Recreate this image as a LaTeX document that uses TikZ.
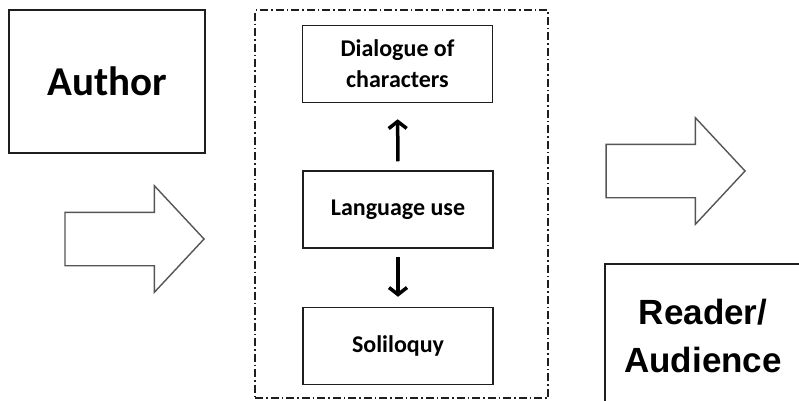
\documentclass[tikz,border=0pt]{standalone}
\usepackage{fontspec}
\usepackage{tikz}
\usetikzlibrary{arrows.meta,shapes.arrows}
\newfontfamily\carlito{Carlito}
\newfontfamily\liberation{Liberation Sans}
\definecolor{boxline}{HTML}{1E1E1E}
\definecolor{arrowline}{HTML}{555555}
\tikzset{
    big-box/.style = {draw=boxline, line width=1.5pt, rectangle, minimum width=196pt, minimum height=143pt, inner sep=0pt, align=center},
    small-box/.style = {draw=boxline, line width=1.5pt, rectangle, minimum width=190pt, minimum height=77pt, inner sep=0pt, align=center, font=\carlito\bfseries\fontsize{24}{31}\selectfont},
    group-box/.style = {draw=boxline, line width=1.4pt, dash pattern=on 8pt off 3pt on 1.5pt off 3pt, minimum width=293pt, minimum height=388pt},
    fat-arrow/.style = {draw=arrowline, line width=1.4pt, fill=white, single arrow, single arrow head extend=26.5pt, single arrow tip angle=94, minimum height=139pt, inner xsep=0pt, inner ysep=26pt, anchor=tip},
    link-arrow/.style = {draw=black, line width=3.5pt, -{Straight Barb[length=7pt,width=18pt,line width=3.5pt]}},
}

\begin{document}
\begin{tikzpicture}[x=1pt, y=-1pt]
\useasboundingbox (0,0) rectangle (799,400);
\clip (0,0) rectangle (799,400);

% outer blocks
\node [big-box, font=\carlito\bfseries\fontsize{41}{48}\selectfont] (author) at (107,81.5) {Author};
\node [big-box, font=\liberation\bfseries\fontsize{35}{48}\selectfont] (reader) at (703,335.5) {Reader/\\Audience};

% the play itself
\node [group-box] (play) at (401.5,204) {};
\node [small-box] (dialogue) at (397.5,64) {Dialogue of\\characters};
\node [small-box] (language) at (398,209.5) {Language use};
\node [small-box] (soliloquy) at (398,346) {Soliloquy};

\draw [link-arrow, shorten <=9pt, shorten >=16pt] (language.north) -- (dialogue.south);
\draw [link-arrow, shorten <=8pt, shorten >=10pt] (language.south) -- (soliloquy.north);

% block arrows
\node [fat-arrow] (into-play) at (205,239) {};
\node [fat-arrow] (out-of-play) at (746,171) {};
\end{tikzpicture}
\end{document}
